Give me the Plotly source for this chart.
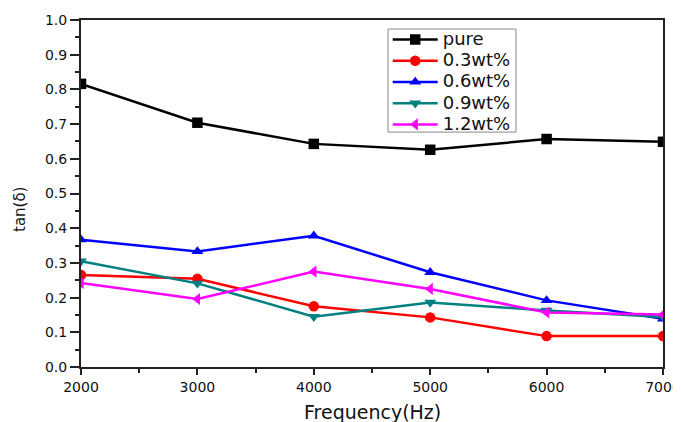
import plotly.graph_objects as go

freq = [2000, 3000, 4000, 5000, 6000, 7000]
pure = [0.816, 0.704, 0.643, 0.626, 0.657, 0.649]
wt03 = [0.265, 0.254, 0.175, 0.143, 0.089, 0.089]
wt06 = [0.367, 0.333, 0.378, 0.273, 0.192, 0.139]
wt09 = [0.305, 0.241, 0.145, 0.186, 0.163, 0.144]
wt12 = [0.242, 0.196, 0.275, 0.225, 0.157, 0.151]
tick_vals = [2000, 3000, 4000, 5000, 6000, 7000]

series = [
    ("pure", pure, "#000000", "square"),
    ("0.3wt%", wt03, "#ff0000", "circle"),
    ("0.6wt%", wt06, "#0000ff", "triangle-up"),
    ("0.9wt%", wt09, "#008080", "triangle-down"),
    ("1.2wt%", wt12, "#ff00ff", "triangle-left"),
]

FONT = "DejaVu Sans"

fig = go.Figure()
for name, ys, color, sym in series:
    fig.add_trace(go.Scatter(
        x=freq, y=ys, name="<span style='font-size:18px'>" + name + "</span>",
        mode="lines+markers",
        line=dict(color=color, width=2.5),
        marker=dict(symbol=sym, size=10.5, color=color),
    ))

axis_common = dict(
    showgrid=False, zeroline=False, showline=True, linecolor="#222222", linewidth=2,
    mirror=True, ticks="outside", tickcolor="#222222", tickwidth=1.5,
    automargin=False, ticklabeloverflow="allow",
    tickfont=dict(family=FONT, size=14, color="#111111"),
)

# the page body adds an 8px offset, so the figure is sized to fit the window
fig.update_layout(
    width=673, height=414,
    paper_bgcolor="white", plot_bgcolor="white",
    margin=dict(l=73, r=18, t=12, b=55),
    font=dict(family=FONT, color="#111111"),
    xaxis=dict(range=[2000, 7000], tickvals=tick_vals, ticklen=6,
               minor=dict(dtick=500, ticks="outside", ticklen=4, tickcolor="#222222", tickwidth=1.5),
               **axis_common),
    yaxis=dict(range=[0, 1.0], dtick=0.1, tickformat=".1f", ticklen=9,
               minor=dict(dtick=0.05, ticks="outside", ticklen=4, tickcolor="#222222", tickwidth=1.5),
               **axis_common),
    legend=dict(x=0.527, y=0.9885, xanchor="left", yanchor="top",
                bgcolor="rgba(0,0,0,0)", borderwidth=0,
                font=dict(family=FONT, size=14), tracegroupgap=0, itemwidth=45),
    showlegend=True,
    shapes=[
        dict(type="rect", xref="paper", yref="paper", x0=0.5275, x1=0.7474, y0=0.677, y1=0.974,
             fillcolor="white", line=dict(color="#888888", width=1), layer="above"),
    ],
    annotations=[
        dict(text="Frequency(Hz)", xref="paper", yref="paper", x=0.5, y=-0.13,
             xanchor="center", yanchor="middle", showarrow=False,
             font=dict(family=FONT, size=19, color="#111111")),
        dict(text="tan(δ)", xref="paper", yref="paper", x=-0.105, y=0.455,
             xanchor="center", yanchor="middle", showarrow=False, textangle=-90,
             font=dict(family=FONT, size=15, color="#111111")),
    ],
)

fig.write_html("out.html")
